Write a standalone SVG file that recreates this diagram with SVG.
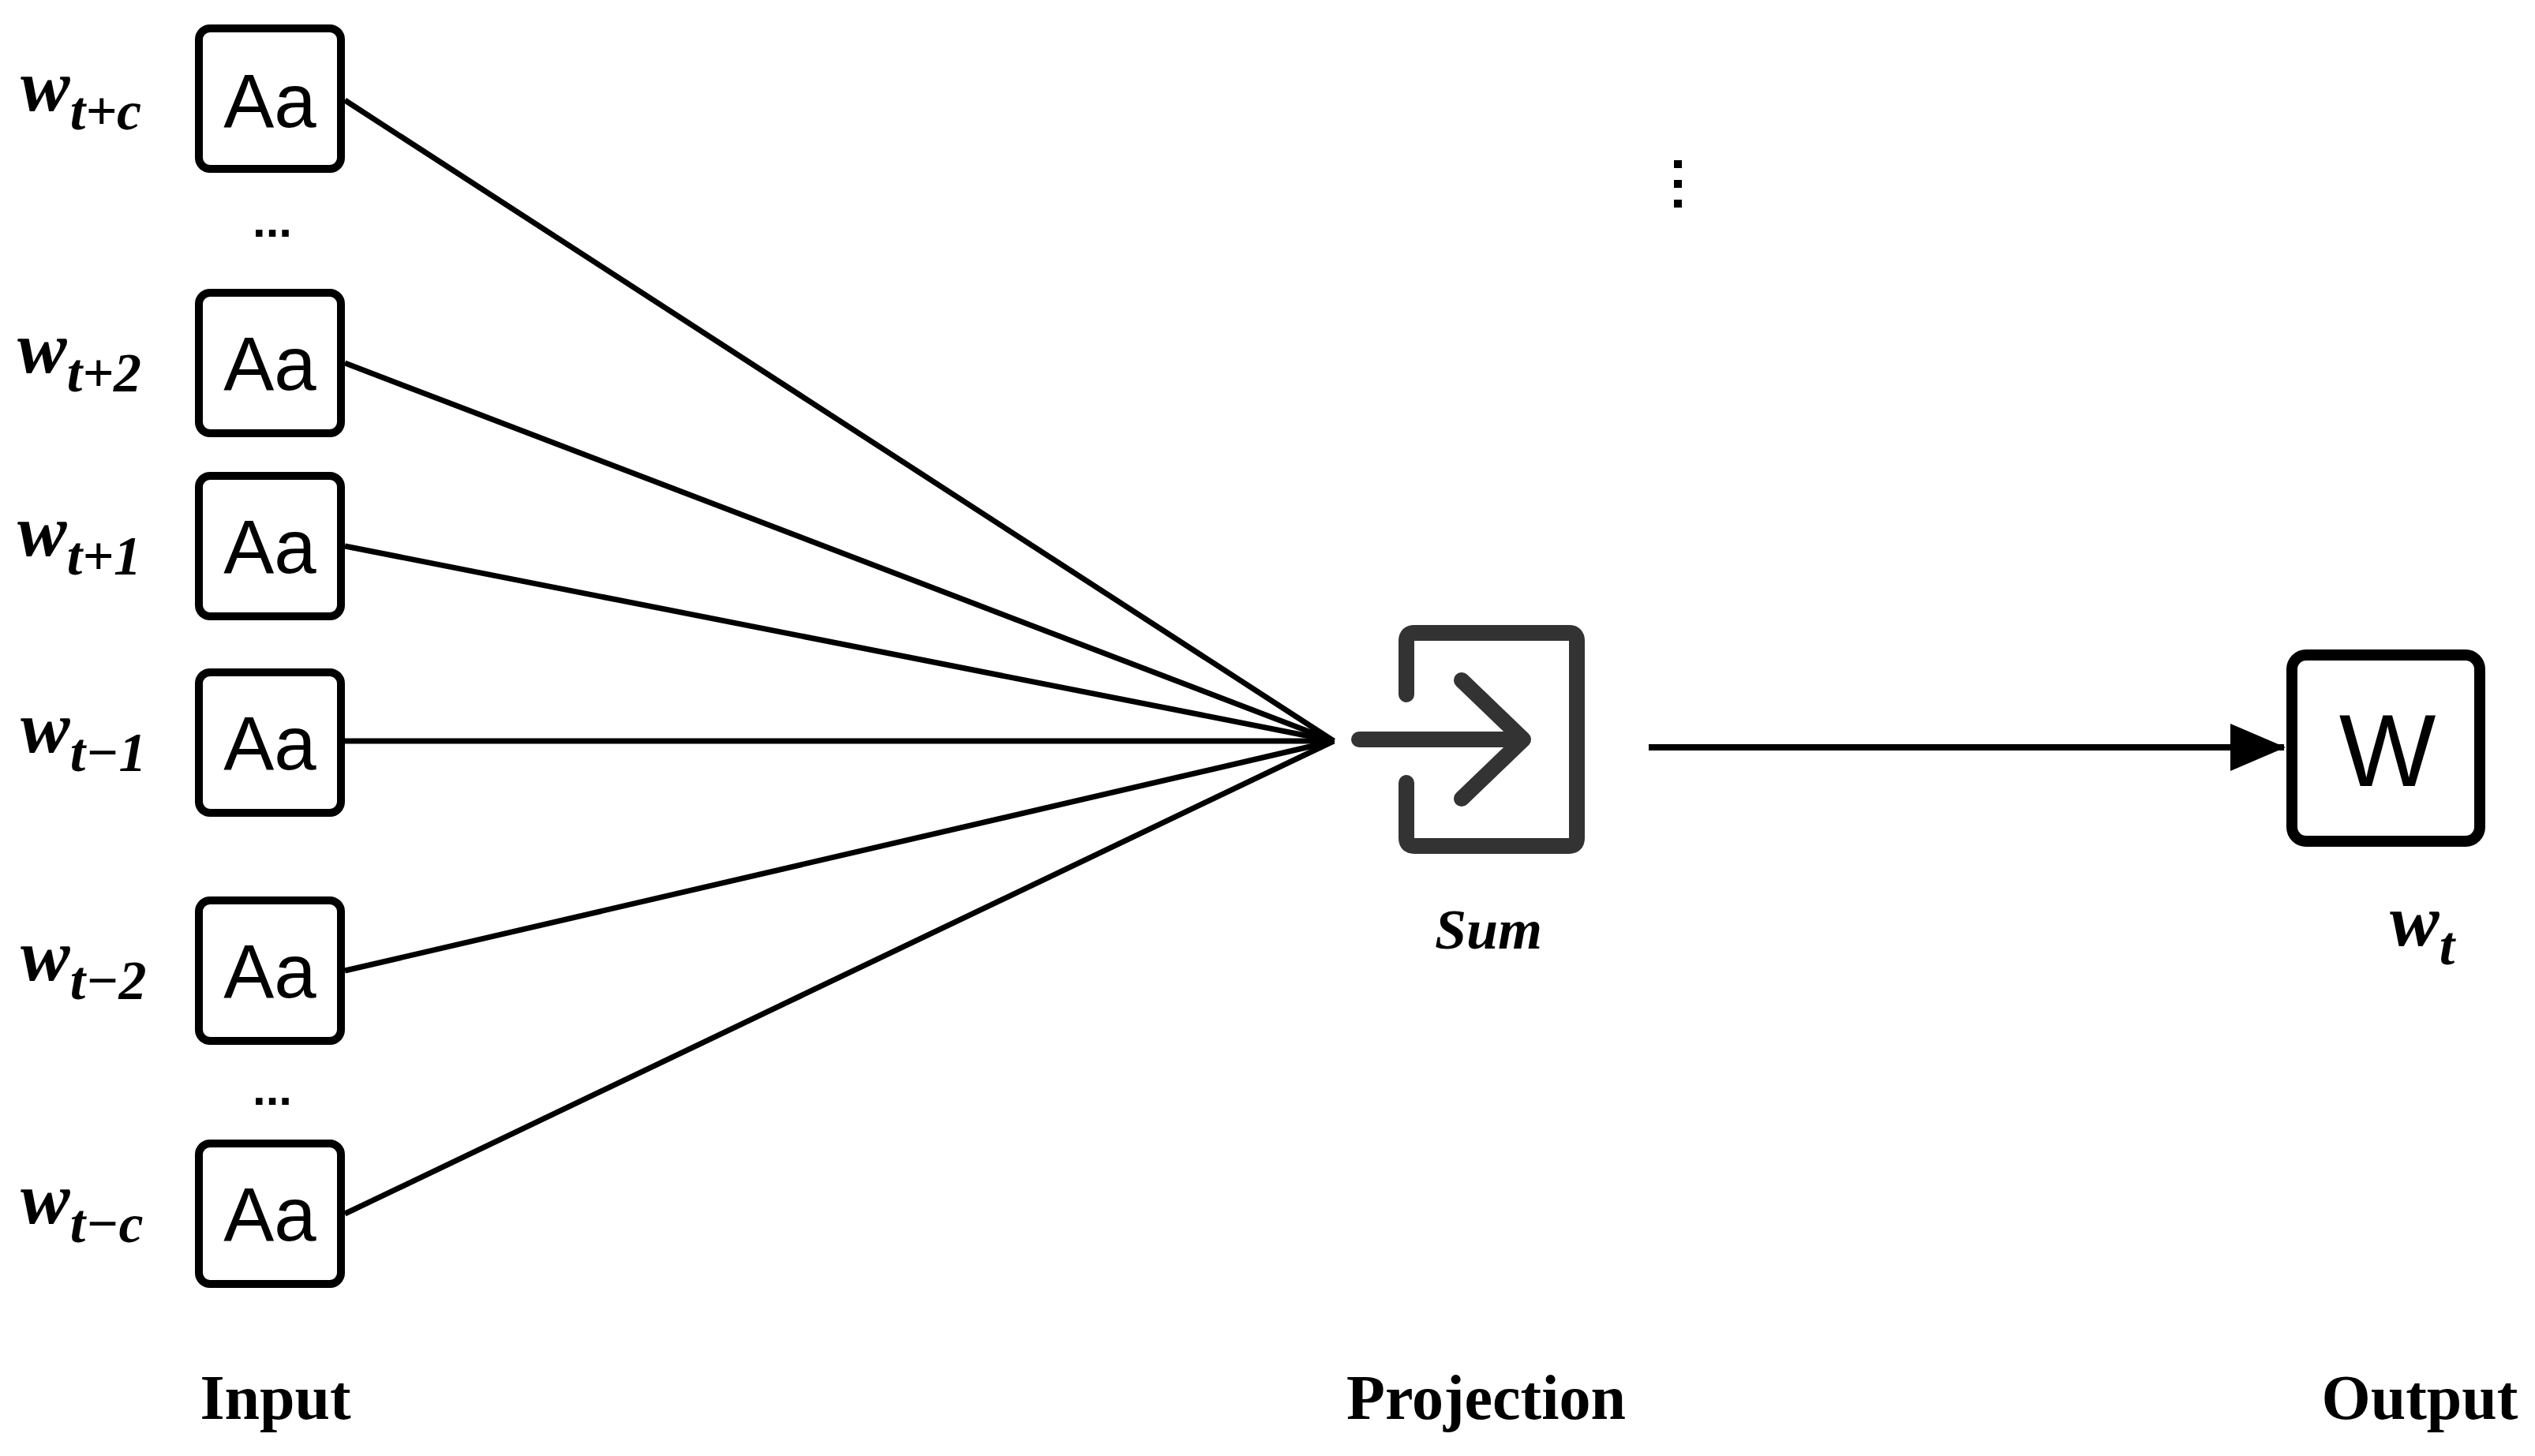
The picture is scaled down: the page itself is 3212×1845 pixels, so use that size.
<svg xmlns="http://www.w3.org/2000/svg" width="3212" height="1845" viewBox="0 0 3212 1845">
<style>
.box{fill:#fff;stroke:#000;stroke-width:10}
.aa{font-family:"Liberation Sans",Arial,sans-serif;font-size:96px;text-anchor:middle}
.lab{font-family:"Liberation Serif","DejaVu Serif",serif;font-weight:bold;font-style:italic;font-size:94px}
.lab tspan{font-size:70px}
.cap{font-family:"Liberation Serif","DejaVu Serif",serif;font-weight:bold;font-size:80px;text-anchor:middle}
.dots{font-family:"Liberation Sans",sans-serif;font-weight:bold;font-size:60px;text-anchor:middle}
.ln{stroke:#000;stroke-width:7;fill:none}
</style>
<defs>
<marker id="ah2" markerWidth="70" markerHeight="60" refX="68" refY="30" orient="auto" markerUnits="userSpaceOnUse"><path d="M0,0 L70,30 L0,60 z" fill="#000"/></marker>
</defs>
<rect width="3212" height="1845" fill="#fff"/>
<g id="connectors">
<line class="ln" x1="437" y1="127" x2="1690" y2="939"/>
<line class="ln" x1="437" y1="460" x2="1690" y2="939"/>
<line class="ln" x1="437" y1="692" x2="1690" y2="939"/>
<line class="ln" x1="437" y1="939" x2="1690" y2="939"/>
<line class="ln" x1="437" y1="1230" x2="1690" y2="939"/>
<line class="ln" x1="437" y1="1538" x2="1690" y2="939"/>
<path d="M1660,922 L1692,939 L1660,956 z" fill="#000"/>
<line x1="2089" y1="947" x2="2894" y2="947" stroke="#000" stroke-width="8" marker-end="url(#ah2)"/>
</g>
<g id="in-tc"><rect class="box" x="252" y="36" width="180" height="178" rx="14"/><text class="aa" x="342" y="161">Aa</text><text class="lab" x="26" y="140">w<tspan dy="24">t+c</tspan></text></g>
<g id="in-t2"><rect class="box" x="252" y="371" width="180" height="178" rx="14"/><text class="aa" x="342" y="494">Aa</text><text class="lab" x="22" y="472">w<tspan dy="24">t+2</tspan></text></g>
<g id="in-t1"><rect class="box" x="252" y="603" width="180" height="178" rx="14"/><text class="aa" x="342" y="726">Aa</text><text class="lab" x="22" y="704">w<tspan dy="24">t+1</tspan></text></g>
<g id="in-tm1"><rect class="box" x="252" y="852" width="180" height="178" rx="14"/><text class="aa" x="342" y="975">Aa</text><text class="lab" x="26" y="953">w<tspan dy="24">t−1</tspan></text></g>
<g id="in-tm2"><rect class="box" x="252" y="1141" width="180" height="178" rx="14"/><text class="aa" x="342" y="1264">Aa</text><text class="lab" x="26" y="1242">w<tspan dy="24">t−2</tspan></text></g>
<g id="in-tmc"><rect class="box" x="252" y="1449" width="180" height="178" rx="14"/><text class="aa" x="342" y="1572">Aa</text><text class="lab" x="26" y="1550">w<tspan dy="24">t−c</tspan></text></g>
<text class="dots" x="345" y="300">...</text>
<text class="dots" x="345" y="1400">...</text>
<g id="vdots" fill="#000"><rect x="2121" y="203" width="10" height="10"/><rect x="2121" y="228" width="10" height="10"/><rect x="2121" y="253" width="10" height="10"/></g>
<g id="sum">
<path d="M1782,880 V812 Q1782,802 1792,802 H1988 Q1998,802 1998,812 V1062 Q1998,1072 1988,1072 H1792 Q1782,1072 1782,1062 V992" fill="none" stroke="#333" stroke-width="20" stroke-linecap="round"/>
<path d="M1722,937 H1930 M1852,862 L1930,937 L1852,1012" fill="none" stroke="#333" stroke-width="20" stroke-linecap="round" stroke-linejoin="round"/>
<text class="lab" x="1886" y="1202" text-anchor="middle" style="font-size:72px">Sum</text>
</g>
<g id="output">
<rect x="2912" y="830" width="238" height="236" rx="18" fill="#fff" stroke="#000" stroke-width="14" transform="translate(-8,0)"/>
<text class="aa" x="3025" y="996" style="font-size:130px">W</text>
<text class="lab" x="3028" y="1198">w<tspan dy="24">t</tspan></text>
</g>
<text class="cap" x="349" y="1798">Input</text>
<text class="cap" x="1883" y="1798">Projection</text>
<text class="cap" x="3066" y="1798">Output</text>
</svg>
